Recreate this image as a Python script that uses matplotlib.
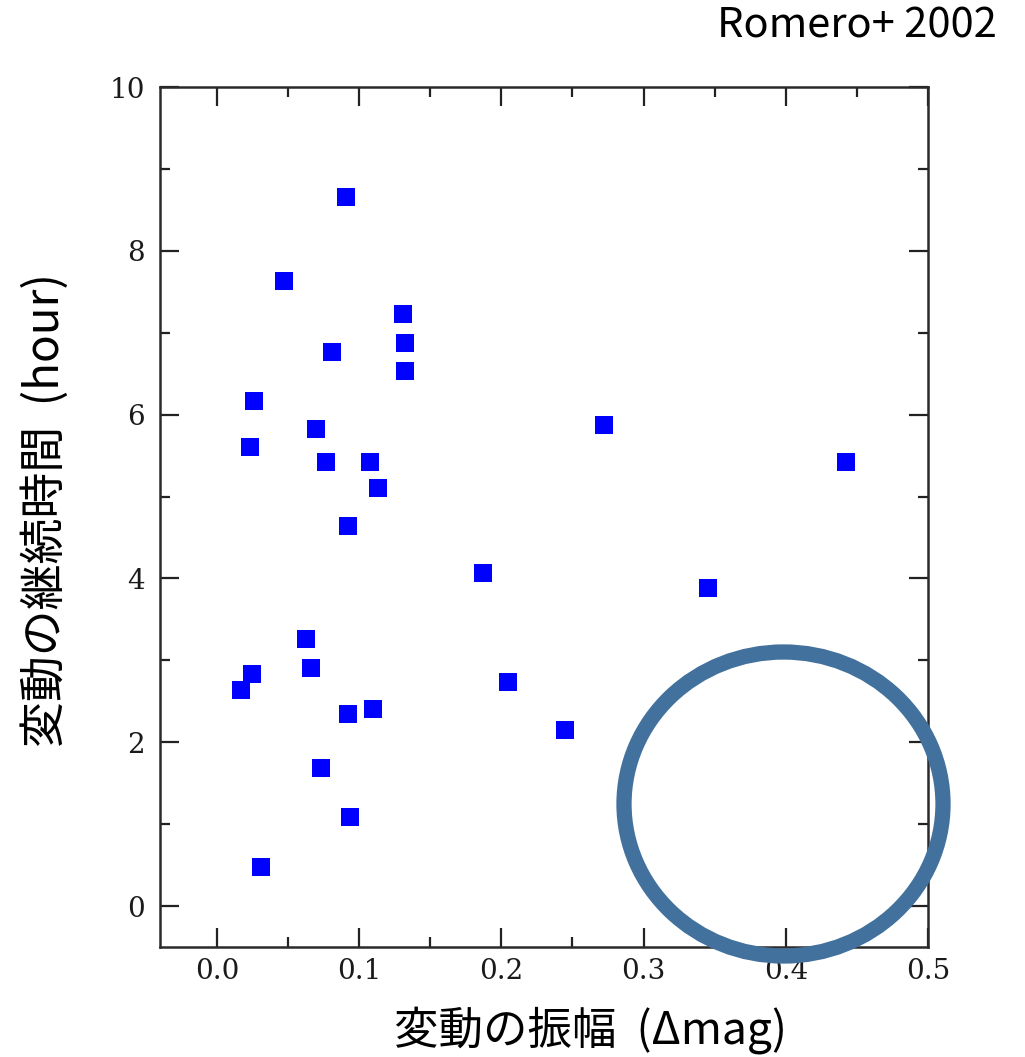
import matplotlib
matplotlib.use('Agg')
import matplotlib.pyplot as plt
from matplotlib.patches import Ellipse

# amplitude of variation (delta mag) and duration (hours)
amplitude = [0.091, 0.047, 0.131, 0.132, 0.132, 0.081, 0.026, 0.023, 0.070,
             0.077, 0.108, 0.113, 0.092, 0.272, 0.442, 0.187, 0.345, 0.063,
             0.066, 0.025, 0.017, 0.092, 0.110, 0.073, 0.0935, 0.031, 0.205,
             0.245]
duration = [8.66, 7.63, 7.23, 6.88, 6.53, 6.76, 6.17, 5.60, 5.82,
            5.42, 5.42, 5.10, 4.64, 5.87, 5.42, 4.07, 3.88, 3.26,
            2.91, 2.83, 2.64, 2.35, 2.40, 1.68, 1.09, 0.48, 2.74,
            2.15]

xticks = [0.0, 0.1, 0.2, 0.3, 0.4, 0.5]
xtick_labels = ['0.0', '0.1', '0.2', '0.3', '0.4', '0.5']
yticks = [0, 2, 4, 6, 8, 10]
ytick_labels = ['0', '2', '4', '6', '8', '10']

plt.rcParams['font.family'] = ['Noto Sans CJK JP', 'DejaVu Sans']

W, H = 1025, 1057
fig = plt.figure(figsize=(W / 100, H / 100), dpi=100)
ax = fig.add_axes([160 / W, 1 - 947 / H, 768 / W, 860 / H])

ax.scatter(amplitude, duration, marker='s', s=170, color='#0000ff',
           linewidths=0, zorder=3)

ax.set_xlim(-0.04, 0.5)
ax.set_ylim(-0.5, 10)
ax.set_xticks(xticks)
ax.set_xticklabels(xtick_labels)
ax.set_yticks(yticks)
ax.set_yticklabels(ytick_labels)
ax.set_xticks([0.05, 0.15, 0.25, 0.35, 0.45], minor=True)
ax.set_yticks([1, 3, 5, 7, 9], minor=True)

for lab in ax.get_xticklabels() + ax.get_yticklabels():
    lab.set_family('DejaVu Serif')
    lab.set_fontsize(20)
    lab.set_color('#1a1a1a')

ax.tick_params(which='both', direction='in', top=True, right=True,
               color='#222222', width=1.6)
ax.tick_params(which='major', length=14)
ax.tick_params(which='minor', length=7)
ax.tick_params(axis='x', pad=8)
ax.tick_params(axis='y', pad=11)
for sp in ax.spines.values():
    sp.set_linewidth(1.8)
    sp.set_color('#2a2a2a')

fig.text(591 / W, 1 - 1030 / H, '変動の振幅  (Δmag)', fontsize=32,
         ha='center', va='center')
fig.text(46 / W, 1 - 510 / H, '変動の継続時間  (hour)', fontsize=33,
         ha='center', va='center', rotation=90)
fig.text(997 / W, 1 - 26 / H, 'Romero+ 2002', fontsize=30,
         ha='right', va='center')

ring = Ellipse((783.5 / W, 1 - 804 / H), 319 / W, 304 / H,
               transform=fig.transFigure, fill=False,
               edgecolor='#41719c', linewidth=11)
fig.add_artist(ring)

fig.savefig('out.png', dpi=100, facecolor='white')
